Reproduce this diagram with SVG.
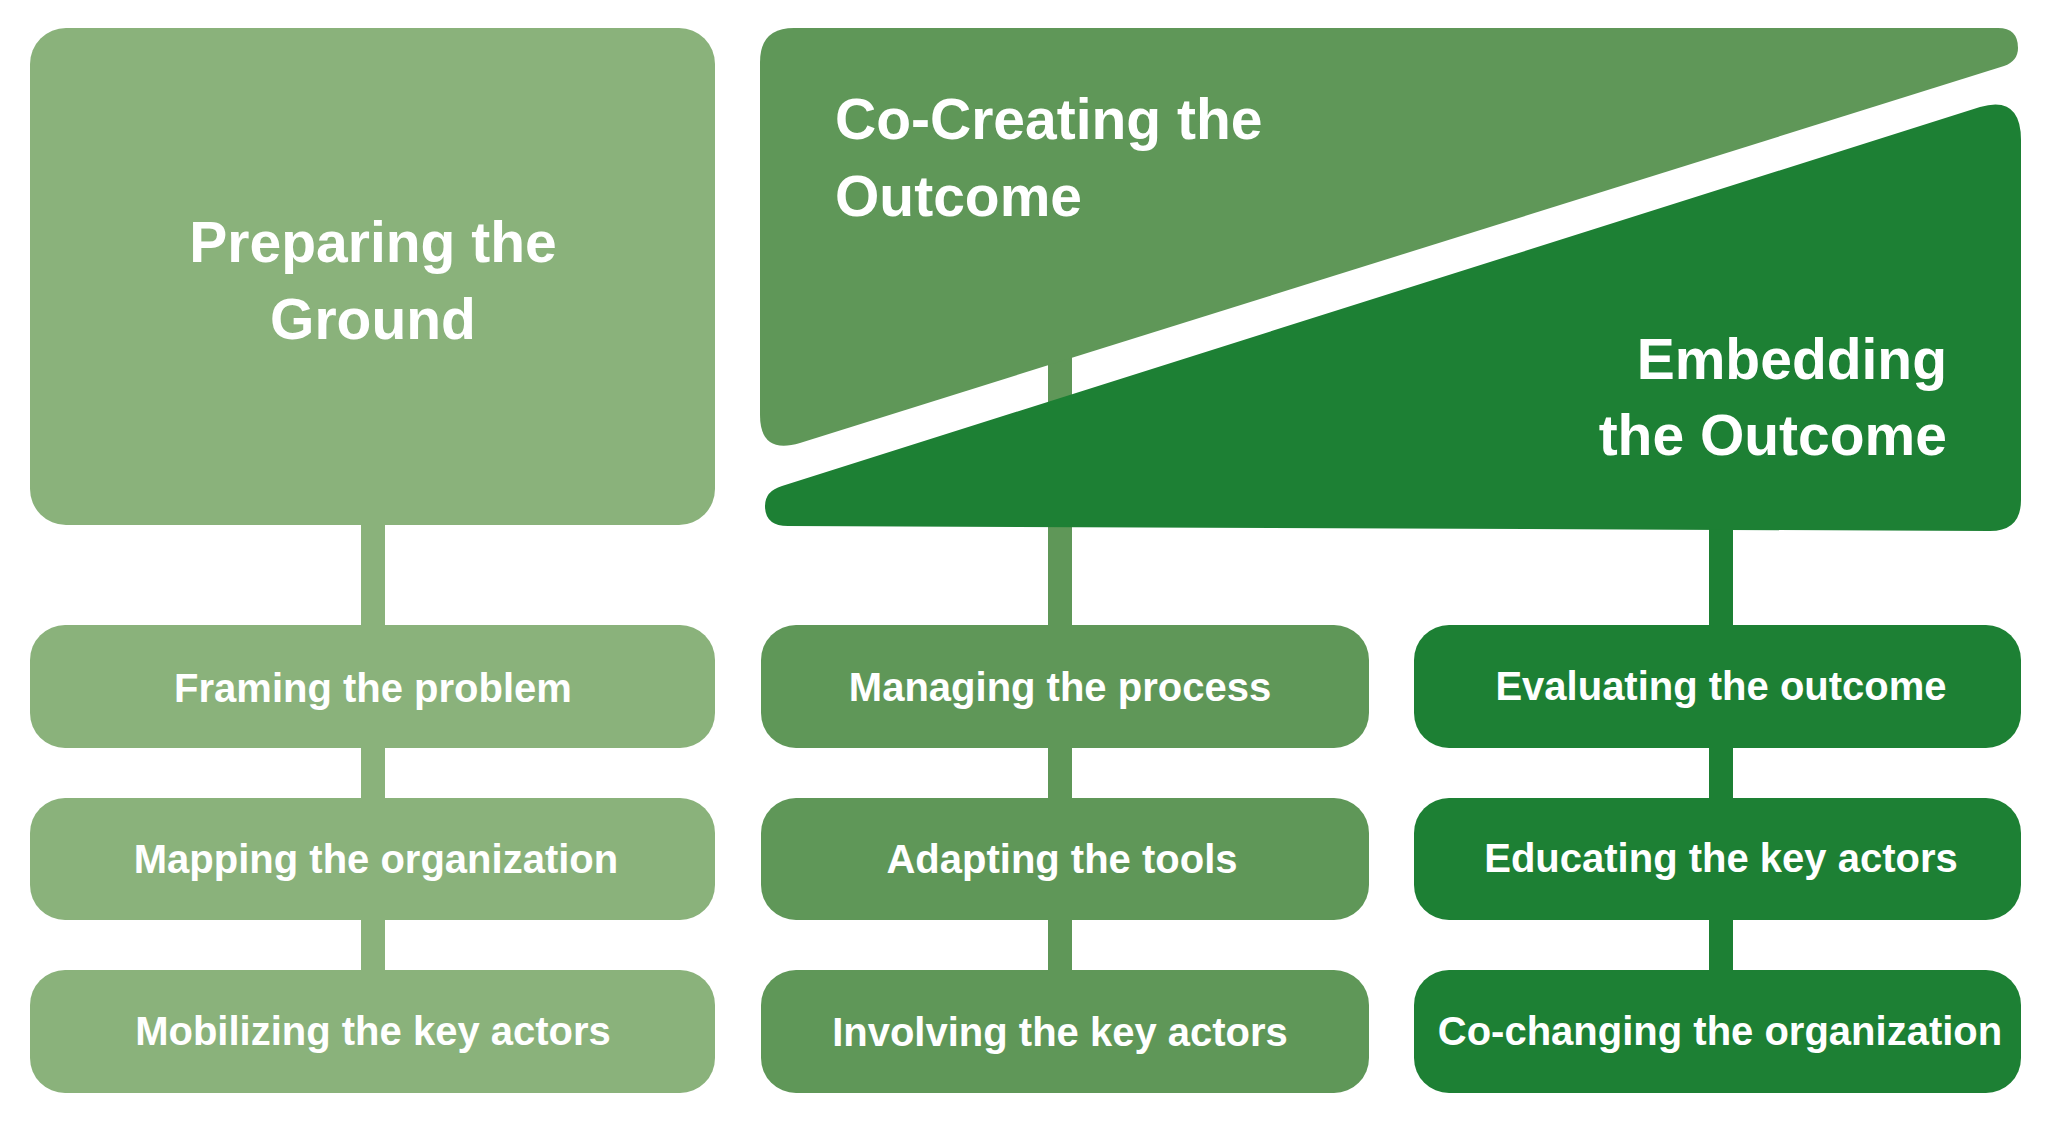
<svg xmlns="http://www.w3.org/2000/svg" width="2048" height="1123" viewBox="0 0 2048 1123">
  <style>
    .light { fill: #8AB27B; }
    .medium { fill: #5F9758; }
    .dark { fill: #1D8034; }
    .title { font-family: "Liberation Sans", Arial, sans-serif; font-weight: bold; font-size: 57px; fill: #FFFFFF; }
    .label { font-family: "Liberation Sans", Arial, sans-serif; font-weight: bold; font-size: 40px; fill: #FFFFFF; text-anchor: middle; }
  </style>
  <rect x="0" y="0" width="2048" height="1123" fill="#FFFFFF"/>

  <g id="connectors">
    <rect class="light" x="361" y="500" width="24" height="490"/>
    <rect class="medium" x="1048" y="345" width="24" height="645"/>
    <rect class="dark" x="1709" y="500" width="24" height="490"/>
  </g>

  <g id="preparing-the-ground">
    <rect class="light" x="30" y="28" width="685" height="497" rx="36" ry="36"/>
    <text class="title" x="373" y="262" text-anchor="middle">Preparing the</text>
    <text class="title" x="373" y="339" text-anchor="middle">Ground</text>
  </g>

  <g id="co-creating-the-outcome">
    <path class="medium" d="M 760 62 Q 760 28 794 28 L 1998 28 Q 2018 28 2018 48 Q 2018 61 2004 66 L 800 443 Q 760 455 760 415 Z"/>
    <text class="title" x="835" y="139">Co-Creating the</text>
    <text class="title" x="835" y="216">Outcome</text>
  </g>

  <g id="embedding-the-outcome">
    <path class="dark" d="M 1980 107 Q 2021 95 2021 140 L 2021 500 Q 2021 531 1990 531 L 788 526 Q 765 526 765 506 Q 765 491 782 486 Z"/>
    <text class="title" x="1947" y="379" text-anchor="end">Embedding</text>
    <text class="title" x="1947" y="455" text-anchor="end">the Outcome</text>
  </g>

  <g id="framing-the-problem">
    <rect class="light" x="30" y="625" width="685" height="123" rx="35" ry="35"/>
    <text class="label" x="373" y="702">Framing the problem</text>
  </g>
  <g id="mapping-the-organization">
    <rect class="light" x="30" y="798" width="685" height="122" rx="35" ry="35"/>
    <text class="label" x="376" y="873">Mapping the organization</text>
  </g>
  <g id="mobilizing-the-key-actors">
    <rect class="light" x="30" y="970" width="685" height="123" rx="35" ry="35"/>
    <text class="label" x="373" y="1045">Mobilizing the key actors</text>
  </g>

  <g id="managing-the-process">
    <rect class="medium" x="761" y="625" width="608" height="123" rx="35" ry="35"/>
    <text class="label" x="1060" y="701">Managing the process</text>
  </g>
  <g id="adapting-the-tools">
    <rect class="medium" x="761" y="798" width="608" height="122" rx="35" ry="35"/>
    <text class="label" x="1062" y="873">Adapting the tools</text>
  </g>
  <g id="involving-the-key-actors">
    <rect class="medium" x="761" y="970" width="608" height="123" rx="35" ry="35"/>
    <text class="label" x="1060" y="1046">Involving the key actors</text>
  </g>

  <g id="evaluating-the-outcome">
    <rect class="dark" x="1414" y="625" width="607" height="123" rx="35" ry="35"/>
    <text class="label" x="1721" y="700">Evaluating the outcome</text>
  </g>
  <g id="educating-the-key-actors">
    <rect class="dark" x="1414" y="798" width="607" height="122" rx="35" ry="35"/>
    <text class="label" x="1721" y="872">Educating the key actors</text>
  </g>
  <g id="co-changing-the-organization">
    <rect class="dark" x="1414" y="970" width="607" height="123" rx="35" ry="35"/>
    <text class="label" x="1720" y="1045">Co-changing the organization</text>
  </g>
</svg>
